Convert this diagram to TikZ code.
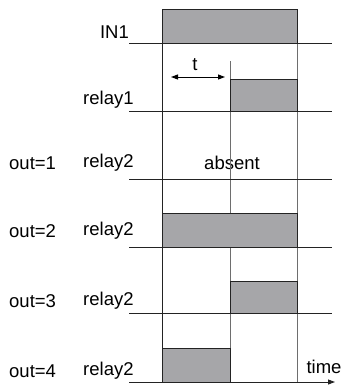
\documentclass[tikz,border=0pt]{standalone}
\usepackage{fontspec}
\setmainfont{Liberation Sans}
\usetikzlibrary{arrows.meta}
\definecolor{boxfill}{RGB}{166,166,169}
\definecolor{gline}{RGB}{110,110,110}
\definecolor{dline}{RGB}{35,35,35}
\begin{document}
\begin{tikzpicture}[x=1pt,y=-1pt,
  lbl/.style={inner sep=0pt,font=\fontsize{18.5}{21}\selectfont},
  pulse/.style={fill=boxfill,draw=dline,line width=1pt},
  base/.style={draw=dline,line width=0.9pt},
  gvline/.style={draw=gline,line width=0.9pt},
  bvline/.style={draw=dline,line width=0.9pt}]
\useasboundingbox (0,0) rectangle (343,388);
% coordinates
\coordinate (aL) at (129,43); \coordinate (aR) at (332,43);
\coordinate (bL) at (129,111); \coordinate (bR) at (332,111);
\coordinate (cL) at (129,179); \coordinate (cR) at (332,179);
\coordinate (dL) at (129,247); \coordinate (dR) at (332,247);
\coordinate (eL) at (129,313); \coordinate (eR) at (332,313);
\coordinate (fL) at (129,382); \coordinate (fR) at (335,382);
\coordinate (v1t) at (162,9); \coordinate (v1b) at (162,382);
\coordinate (v2t) at (230,61); \coordinate (v2b) at (230,382);
\coordinate (v3t) at (297,9); \coordinate (v3b) at (297,382);
\coordinate (tA) at (171,77); \coordinate (tB) at (225,77);
% labels
\node[lbl,anchor=east] (in1) at (129,32) {IN1};
\node[lbl,anchor=west] (r1) at (83,100) {relay1};
\node[lbl,anchor=west] (r21) at (83,163) {relay2};
\node[lbl,anchor=west] (r22) at (83,231) {relay2};
\node[lbl,anchor=west] (r23) at (83,301) {relay2};
\node[lbl,anchor=west] (r24) at (83,371) {relay2};
\node[lbl,anchor=west] (o1) at (9,163) {out=1};
\node[lbl,anchor=west] (o2) at (9,231) {out=2};
\node[lbl,anchor=west] (o3) at (9,301) {out=3};
\node[lbl,anchor=west] (o4) at (9,371) {out=4};
\node[lbl] (abs) at (232,163) {absent};
\node[lbl] (tl) at (195,65) {t};
\node[lbl] (time) at (324,367) {time};
% vertical lines
\draw[gvline] (v2t) -- (v2b);
\draw[gvline] (v3t) -- (v3b);
\draw[bvline] (v1t) -- (v1b);
% baselines
\draw[base] (aL) -- (aR);
\draw[base] (bL) -- (bR);
\draw[base] (cL) -- (cR);
\draw[base] (dL) -- (dR);
\draw[base] (eL) -- (eR);
\draw[base,-{Triangle[length=7pt,width=5pt]}] (fL) -- (fR);
% pulses
\draw[pulse] (162,43) rectangle (297,9);
\draw[pulse] (230,111) rectangle (297,79);
\draw[pulse] (162,247) rectangle (297,213);
\draw[pulse] (230,313) rectangle (297,281);
\draw[pulse] (162,382) rectangle (230,348);
% t arrow
\draw[line width=1pt,{Triangle[length=7pt,width=5pt]}-{Triangle[length=7pt,width=5pt]}] (tA) -- (tB);
\end{tikzpicture}
\end{document}
